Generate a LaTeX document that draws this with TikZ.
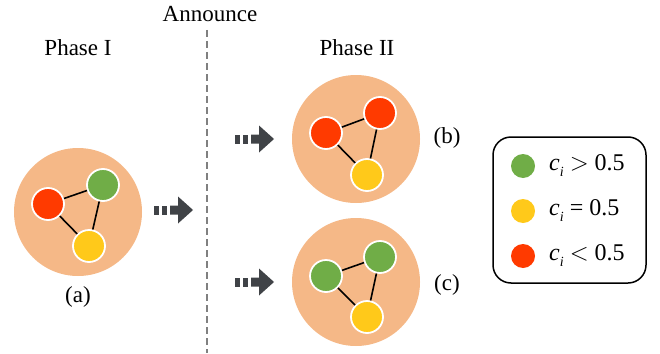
\documentclass[tikz,border=0pt]{standalone}
\usepackage{fontspec}
\setmainfont{Liberation Serif}
\usepackage{tikz}
\usetikzlibrary{positioning}

\definecolor{peach}{HTML}{F5B887}
\definecolor{agreen}{HTML}{70AD47}
\definecolor{ayellow}{HTML}{FFC91A}
\definecolor{ared}{HTML}{FF3A00}
\definecolor{arrowgray}{HTML}{404347}

\begin{document}
\begin{tikzpicture}[x=1pt,y=1pt,
	font=\fontsize{23}{27}\selectfont,
	group/.style = {circle, fill=peach, minimum size=128pt, inner sep=0pt},
	agent/.style = {circle, draw=white, line width=1.8pt, minimum size=32pt, inner sep=0pt},
	link/.style = {line width=1.6pt},
	legdot/.style = {circle, minimum size=24pt, inner sep=0pt},
	legtext/.style = {anchor=west, inner sep=0pt, font=\fontsize{24}{28}\selectfont},
	hint/.pic = {
		\fill[arrowgray] (0,-4.5) rectangle (5,4.5);
		\fill[arrowgray] (8,-4.5) rectangle (12.5,4.5);
		\fill[arrowgray] (16,-4.5) -- (24,-4.5) -- (24,-13.5) -- (39,0)
			-- (24,13.5) -- (24,4.5) -- (16,4.5) -- cycle;
	}]
	\useasboundingbox (0,0) rectangle (660,-353);

	% announce line
	\coordinate (top) at (207,-30);
	\coordinate (bot) at (207,-353);
	\draw[gray, line width=1.6pt, dash pattern=on 7pt off 4pt] (top) -- (bot);
	\node (announce) at (210,-14) {Announce};
	\node (phase1) at (78,-48) {Phase I};
	\node (phase2) at (357,-48) {Phase II};

	% phase I
	\node[group] (ga) at (78,-212) {};
	\node[agent, fill=ared] (a1) at (48,-204) {};
	\node[agent, fill=agreen] (a2) at (103,-185) {};
	\node[agent, fill=ayellow] (a3) at (89,-246) {};
	\draw[link] (a1) -- (a2);
	\draw[link] (a2) -- (a3);
	\draw[link] (a3) -- (a1);
	\node (la) at (78,-297) {(a)};
	\pic at (154,-210) {hint};

	% phase II, case (b)
	\node[group] (gb) at (356,-139) {};
	\node[agent, fill=ared] (b1) at (326,-133) {};
	\node[agent, fill=ared] (b2) at (380,-113) {};
	\node[agent, fill=ayellow] (b3) at (367,-175) {};
	\draw[link] (b1) -- (b2);
	\draw[link] (b2) -- (b3);
	\draw[link] (b3) -- (b1);
	\node (lb) at (447,-138) {(b)};
	\pic at (235,-139) {hint};

	% phase II, case (c)
	\node[group] (gc) at (356,-282) {};
	\node[agent, fill=agreen] (c1) at (326,-276) {};
	\node[agent, fill=agreen] (c2) at (380,-257) {};
	\node[agent, fill=ayellow] (c3) at (367,-317) {};
	\draw[link] (c1) -- (c2);
	\draw[link] (c2) -- (c3);
	\draw[link] (c3) -- (c1);
	\node (lc) at (447,-285) {(c)};
	\pic at (235,-282) {hint};

	% legend
	\node[draw, line width=1.5pt, rounded corners=18pt, minimum width=153pt,
		minimum height=146pt] (legend) at (569.5,-210) {};
	\node[legdot, fill=agreen] (d1) at (523,-166) {};
	\node[legdot, fill=ayellow] (d2) at (523,-211) {};
	\node[legdot, fill=ared] (d3) at (523,-256) {};
	\node[legtext] (t1) at (549,-166) {\textit{c}\raisebox{-6pt}{\fontsize{14}{14}\selectfont\textit{i}} $>$ 0.5};
	\node[legtext] (t2) at (549,-211) {\textit{c}\raisebox{-6pt}{\fontsize{14}{14}\selectfont\textit{i}} = 0.5};
	\node[legtext] (t3) at (549,-256) {\textit{c}\raisebox{-6pt}{\fontsize{14}{14}\selectfont\textit{i}} $<$ 0.5};
\end{tikzpicture}
\end{document}
